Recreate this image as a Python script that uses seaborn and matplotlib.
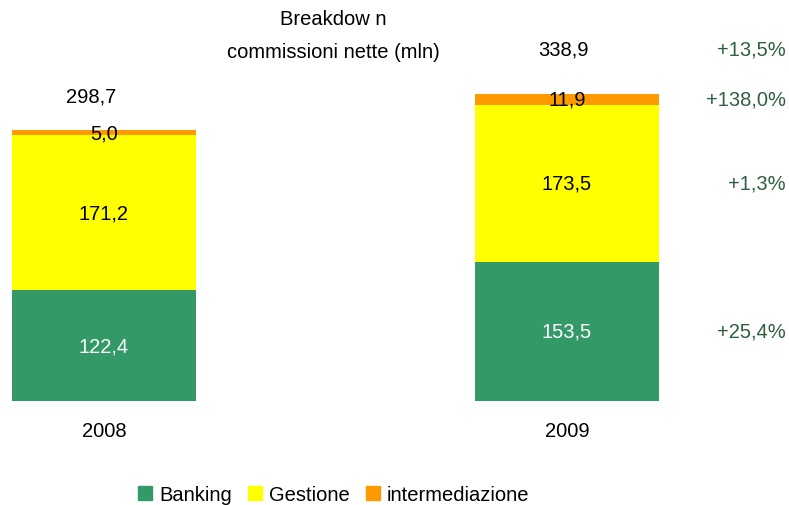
import matplotlib
matplotlib.use("Agg")
import matplotlib.pyplot as plt
import seaborn as sns
import pandas as pd
from matplotlib.patches import Patch

# Data
years = ["2008", "2009"]
banking = [122.4, 153.5]
gestione = [171.2, 173.5]
intermediazione = [5.0, 11.9]
totals = [298.7, 338.9]
changes = ["+25,4%", "+1,3%", "+138,0%", "+13,5%"]

green = "#339966"
yellow = "#FFFF00"
orange = "#FF9900"
pct_color = "#2F5F3F"

df = pd.DataFrame({"year": years, "banking": banking,
                   "gestione": gestione, "intermediazione": intermediazione})
df["lvl1"] = df["banking"]
df["lvl2"] = df["banking"] + df["gestione"]
df["lvl3"] = df["lvl2"] + df["intermediazione"]

sns.set_style("white")
plt.rcParams["font.family"] = ["Liberation Sans", "DejaVu Sans"]
plt.rcParams["text.color"] = "black"

fig = plt.figure(figsize=(7.89, 5.06), dpi=100)
ax = fig.add_axes([0, 0.2055, 1, 0.7945])

# stacked bars drawn as cumulative layers
for col, c in [("lvl3", orange), ("lvl2", yellow), ("lvl1", green)]:
    sns.barplot(data=df, x="year", y=col, color=c, width=0.397,
                saturation=1, ax=ax, linewidth=0)

ax.set_xlim(-0.2246, 1.4795)
ax.set_ylim(0, 443.7)
ax.axis("off")

fs = 14.5
fmt = lambda v: f"{v:.1f}".replace(".", ",")
for i in range(len(years)):
    b, g, m = banking[i], gestione[i], intermediazione[i]
    ax.text(i, b / 2, fmt(b), ha="center", va="center", color="white", fontsize=fs)
    ax.text(i, b + g / 2, fmt(g), ha="center", va="center", color="black", fontsize=fs)
    ax.text(i, b + g + m / 2, fmt(m), ha="center", va="center", color="black", fontsize=fs)
    ax.text(i, -33, years[i], ha="center", va="center", color="black", fontsize=fs)

# totals above the bars
total_offset = [38, 50]
total_dx = [-0.028, -0.008]
for i in range(len(years)):
    ax.text(i + total_dx[i], totals[i] + total_offset[i], fmt(totals[i]),
            ha="center", va="center", color="black", fontsize=fs)

# variation labels on the right, aligned with 2009 segments
seg_mid = [banking[1] / 2, banking[1] + gestione[1] / 2,
           banking[1] + gestione[1] + intermediazione[1] / 2, totals[1] + 50]
for lab, y in zip(changes, seg_mid):
    ax.text(1.472, y, lab, ha="right", va="center", color=pct_color, fontsize=fs)

fig.text(0.422, 0.929, "Breakdow n\ncommissioni nette (mln)", ha="center", va="center",
         fontsize=fs, color="black", linespacing=1.95)

handles = [Patch(color=green, label="Banking"), Patch(color=yellow, label="Gestione"),
           Patch(color=orange, label="intermediazione")]
fig.legend(handles=handles, loc="center", bbox_to_anchor=(0.423, 0.02), ncol=3,
           frameon=False, fontsize=fs, handlelength=0.7, handleheight=0.7,
           handletextpad=0.35, columnspacing=0.8)

fig.savefig("out.png", dpi=100)
